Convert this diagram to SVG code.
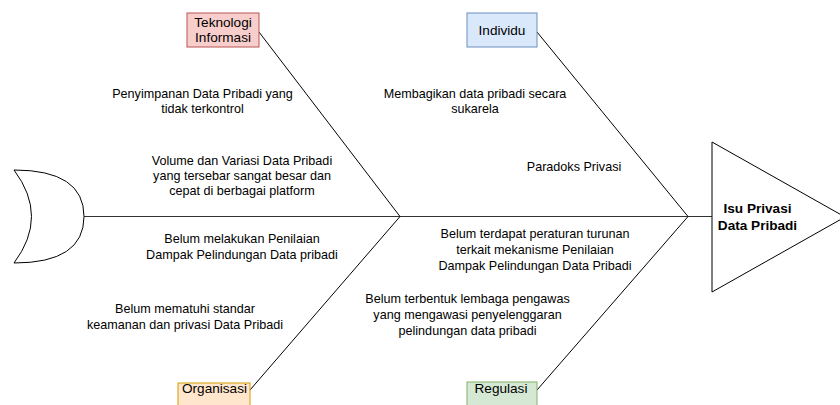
<svg xmlns="http://www.w3.org/2000/svg" width="840" height="405" viewBox="0 0 840 405">
<style>
text{font-family:"Liberation Sans",Arial,sans-serif;font-size:12.6px;fill:#000;text-anchor:middle}
.box{font-size:13.6px}
.bold{font-weight:bold;font-size:13.6px}
.ln{stroke:#000;stroke-width:1;fill:none}
.sp{stroke:#333;stroke-width:1;fill:none}
.sh{stroke:#000;stroke-width:1;fill:#fff}
</style>
<rect width="840" height="405" fill="#fff"/>
<g id="connectors">
<line class="sp" x1="84" y1="216.5" x2="712" y2="216.5"/>
<line class="ln" x1="259" y1="32" x2="400" y2="216.5"/>
<line class="ln" x1="250" y1="390" x2="400" y2="216.5"/>
<line class="ln" x1="537" y1="32" x2="688" y2="216.5"/>
<line class="ln" x1="537" y1="390" x2="688" y2="216.5"/>
</g>
<g id="tail">
<path class="sh" d="M14,170 Q84,170 84,216.5 Q84,263 14,263 Q49,216.5 14,170 Z"/>
</g>
<g id="head">
<path class="sh" d="M712,142 L845,217 L712,292 Z"/>
<text class="bold" x="757.5" y="213">Isu Privasi</text>
<text class="bold" x="757.5" y="230">Data Pribadi</text>
</g>
<g id="teknologi">
<rect x="187" y="13" width="72" height="34" fill="#f8cecc" stroke="#b85450"/>
<text class="box" x="223" y="27">Teknologi</text>
<text class="box" x="223" y="42">Informasi</text>
</g>
<g id="individu">
<rect x="467" y="13" width="70" height="34" fill="#dae8fc" stroke="#6c8ebf"/>
<text class="box" x="502" y="35">Individu</text>
</g>
<g id="organisasi">
<rect x="178" y="383" width="72" height="34" fill="#ffe6cc" stroke="#d79b00"/>
<text class="box" x="214.5" y="393">Organisasi</text>
</g>
<g id="regulasi">
<rect x="467" y="382" width="70" height="34" fill="#d5e8d4" stroke="#82b366"/>
<text class="box" x="501" y="393">Regulasi</text>
</g>
<g id="causes">
<text x="202.5" y="98">Penyimpanan Data Pribadi yang</text>
<text x="202.5" y="113">tidak terkontrol</text>
<text x="242" y="165">Volume dan Variasi Data Pribadi</text>
<text x="242" y="180">yang tersebar sangat besar dan</text>
<text x="242" y="195">cepat di berbagai platform</text>
<text x="242" y="243">Belum melakukan Penilaian</text>
<text x="242" y="259">Dampak Pelindungan Data pribadi</text>
<text x="185" y="313">Belum mematuhi standar</text>
<text x="185" y="329">keamanan dan privasi Data Pribadi</text>
<text x="475" y="98">Membagikan data pribadi secara</text>
<text x="475" y="113">sukarela</text>
<text x="574" y="171">Paradoks Privasi</text>
<text x="535" y="238">Belum terdapat peraturan turunan</text>
<text x="535" y="254">terkait mekanisme Penilaian</text>
<text x="535" y="270">Dampak Pelindungan Data Pribadi</text>
<text x="467.5" y="303">Belum terbentuk lembaga pengawas</text>
<text x="467.5" y="319">yang mengawasi penyelenggaran</text>
<text x="467.5" y="335">pelindungan data pribadi</text>
</g>
</svg>
